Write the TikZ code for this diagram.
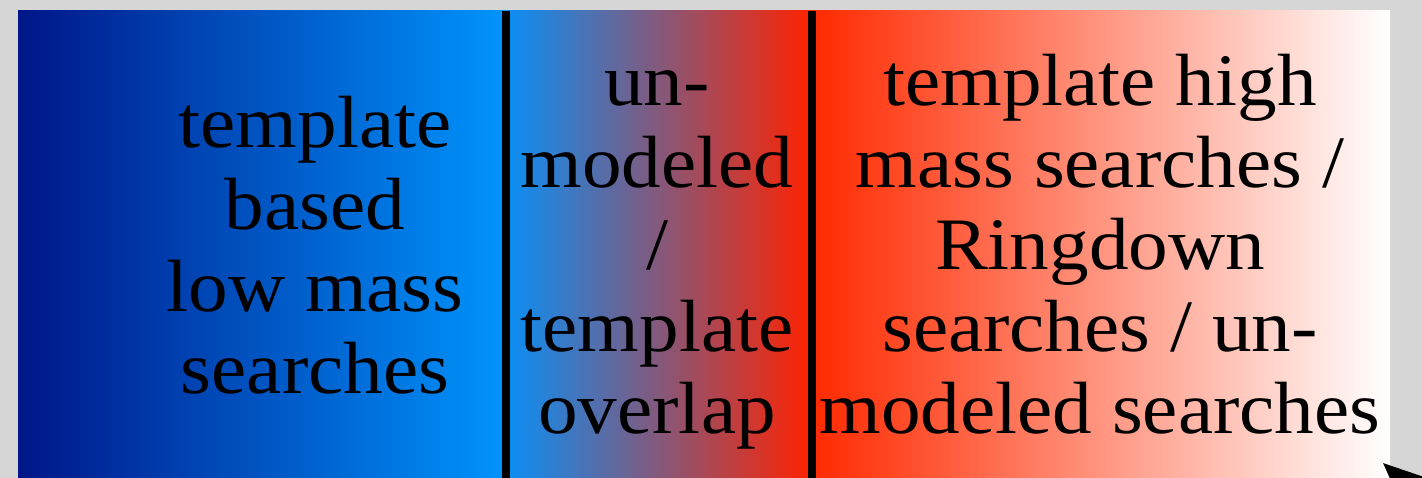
\documentclass[tikz,border=0pt]{standalone}
\usepackage{fontspec}
\setmainfont{Liberation Serif}[FakeStretch=1.07]
\usetikzlibrary{arrows.meta}
\definecolor{bggray}{HTML}{D6D6D6}
\definecolor{darkblue}{HTML}{001689}
\definecolor{skyblue}{HTML}{0094FC}
\definecolor{midblue}{HTML}{0A8FF5}
\definecolor{hotred}{HTML}{FF2200}
\definecolor{redstart}{HTML}{FF2A00}
\begin{document}
\begin{tikzpicture}[x=1pt,y=-1pt,
  lbl/.style={align=center,font=\fontsize{74}{82}\selectfont,inner sep=0pt,anchor=base},
  divider/.style={line width=8pt,black}]
\path[use as bounding box,fill=bggray] (0,0) rectangle (1422,478);
\shade[left color=darkblue,right color=skyblue] (18,11) rectangle (506,478);
\shade[left color=midblue,right color=hotred] (506,11) rectangle (812,478);
\shade[left color=redstart,right color=white] (812,11) rectangle (1390,478);
\coordinate (d1top) at (506,11);
\coordinate (d1bot) at (506,478);
\coordinate (d2top) at (812,11);
\coordinate (d2bot) at (812,478);
\draw[divider] (d1top) -- (d1bot);
\draw[divider] (d2top) -- (d2bot);
\node[lbl] (low) at (315,393) {template\\based\\low mass\\searches};
\node[lbl] (overlap) at (657,433) {un-\\modeled\\/\\template\\overlap};
\node[lbl] (high) at (1100,433) {template high\\mass searches /\\Ringdown\\searches / un-\\modeled searches};
\coordinate (arrowtail) at (1440,515);
\coordinate (arrowtip) at (1383,463);
\draw[line width=3pt,-{Triangle[length=40pt,width=34pt]}] (arrowtail) -- (arrowtip);
\end{tikzpicture}
\end{document}
